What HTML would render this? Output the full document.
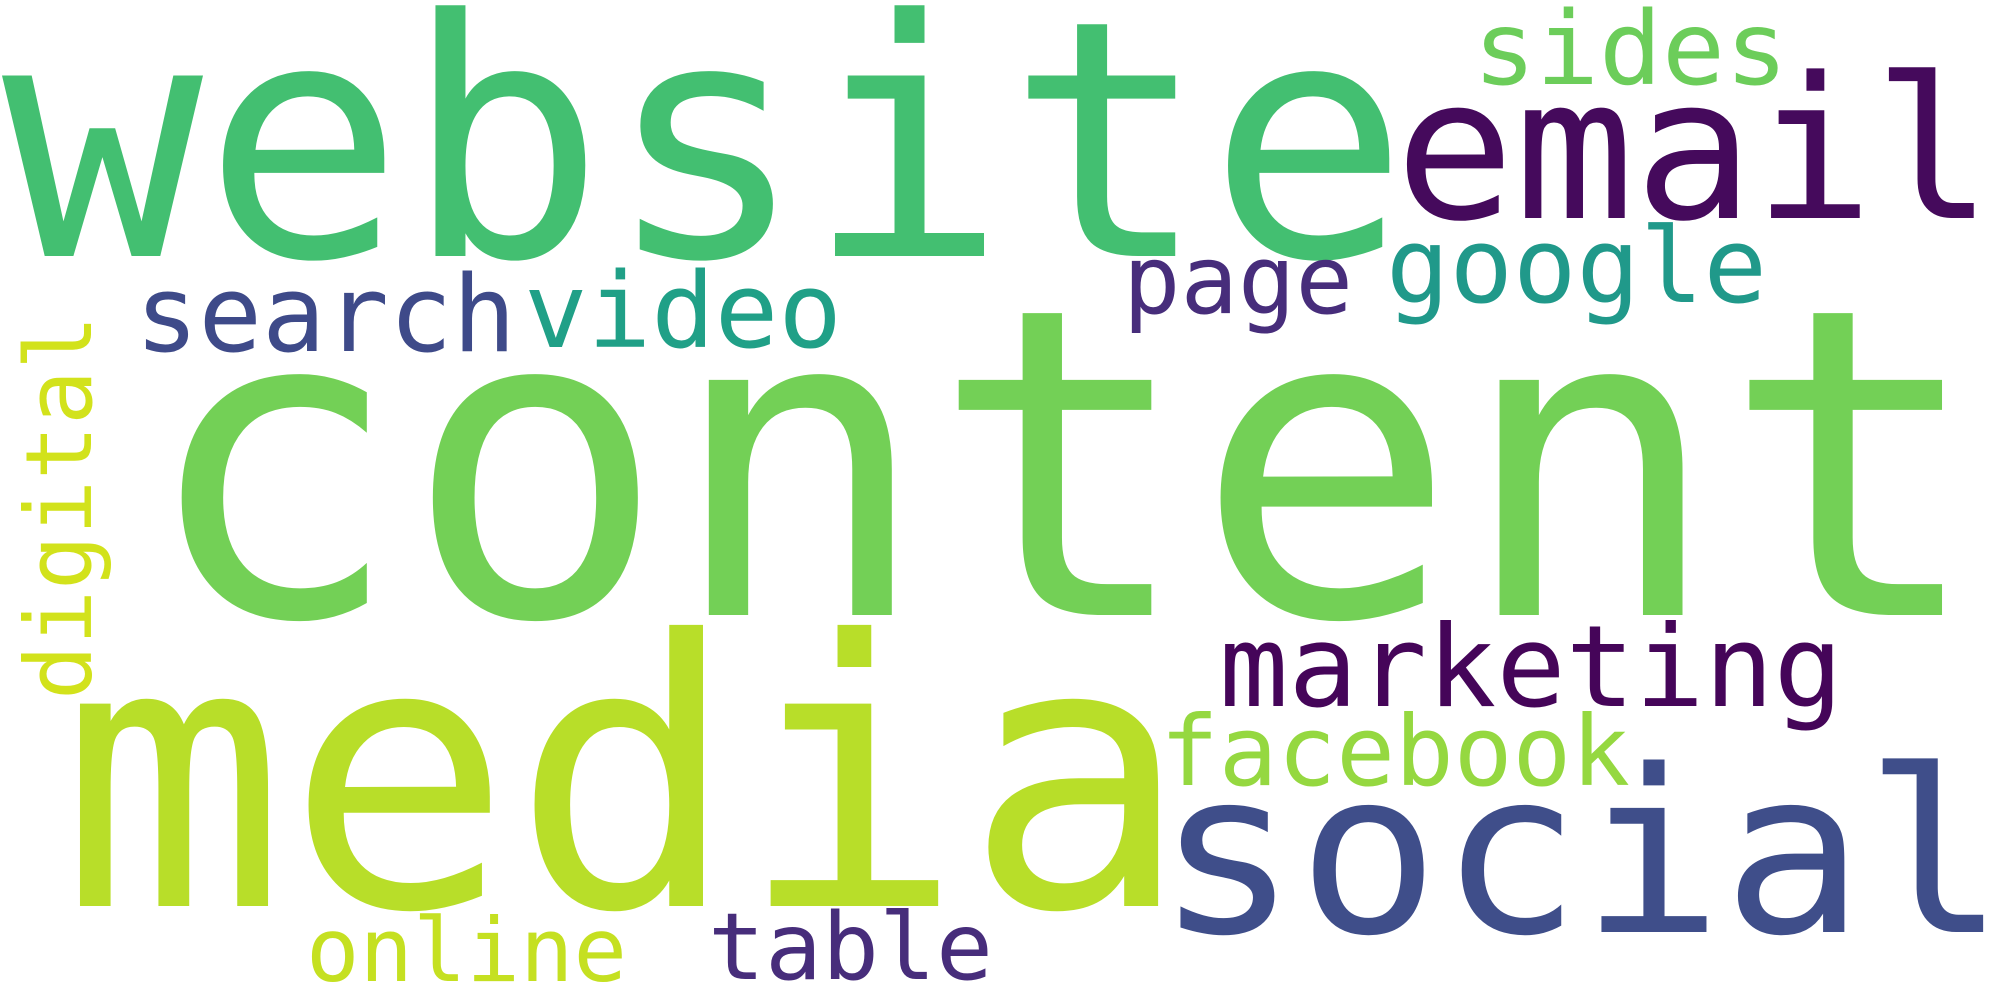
<!DOCTYPE html>
<html lang="en">
<head>
<meta charset="utf-8">
<title>Word cloud</title>
<style>
  html, body { margin: 0; padding: 0; background: #ffffff; }
  svg { display: block; }
  text { font-family: "DejaVu Sans Mono", "Liberation Mono", monospace; }
</style>
</head>
<body>
<svg width="2000" height="1000" viewBox="0 0 2000 1000" xmlns="http://www.w3.org/2000/svg">
  <rect width="2000" height="1000" fill="#ffffff"/>
  <text x="2" y="256" font-size="330" fill="#43bf71" textLength="1407" lengthAdjust="spacingAndGlyphs">website</text>
  <text x="1395" y="218" font-size="197" fill="#450a5c" textLength="598" lengthAdjust="spacingAndGlyphs">email</text>
  <text x="1473" y="84" font-size="102" fill="#6ccd5a" textLength="315" lengthAdjust="spacingAndGlyphs">sides</text>
  <text x="135" y="351" font-size="106" fill="#3e4a89" textLength="381" lengthAdjust="spacingAndGlyphs">search</text>
  <text x="524" y="347" font-size="104" fill="#20a087" textLength="318" lengthAdjust="spacingAndGlyphs">video</text>
  <text x="1123" y="313" font-size="95" fill="#472d7b" textLength="230" lengthAdjust="spacingAndGlyphs">page</text>
  <text x="1386" y="302" font-size="104" fill="#20998a" textLength="381" lengthAdjust="spacingAndGlyphs">google</text>
  <text x="140" y="615" font-size="430" fill="#73d056" textLength="1845" lengthAdjust="spacingAndGlyphs">content</text>
  <text transform="translate(91 700) rotate(-90)" x="0" y="0" font-size="92" fill="#d2e21b" textLength="385" lengthAdjust="spacingAndGlyphs">digital</text>
  <text x="60" y="906" font-size="370" fill="#b8de29" textLength="1130" lengthAdjust="spacingAndGlyphs">media</text>
  <text x="1219" y="706" font-size="113" fill="#450559" textLength="624" lengthAdjust="spacingAndGlyphs">marketing</text>
  <text x="1160" y="785" font-size="97" fill="#95d840" textLength="470" lengthAdjust="spacingAndGlyphs">facebook</text>
  <text x="1156" y="932" font-size="227" fill="#3f4e8a" textLength="850" lengthAdjust="spacingAndGlyphs">social</text>
  <text x="306" y="981" font-size="88" fill="#c5e021" textLength="321" lengthAdjust="spacingAndGlyphs">online</text>
  <text x="708" y="979" font-size="93" fill="#472d7b" textLength="285" lengthAdjust="spacingAndGlyphs">table</text>
</svg>
</body>
</html>
